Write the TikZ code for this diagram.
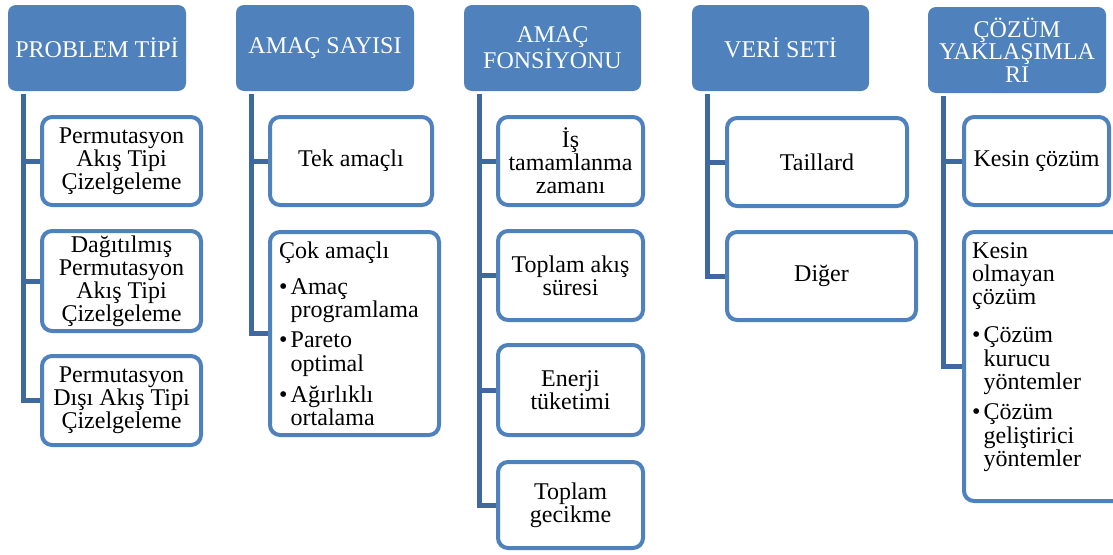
\documentclass[tikz,border=0pt]{standalone}
\usepackage{fontspec}
\setmainfont{Liberation Serif}
\usetikzlibrary{backgrounds}
\definecolor{hblue}{RGB}{79,129,189}
\definecolor{cblue}{RGB}{62,104,158}
\newcommand{\bul}{\makebox[11.5pt][l]{\textbullet}}
\newcommand{\ind}{\hspace*{11.5pt}}
\tikzset{
  hdr/.style={fill=hblue, rounded corners=8pt, text=white, align=center, inner sep=0pt,
    minimum height=86pt, font=\fontsize{24}{23.3}\selectfont},
  child/.style={draw=hblue, line width=4pt, fill=white, rounded corners=10pt, align=center,
    inner sep=0pt, font=\fontsize{24}{23}\selectfont},
  listtxt/.style={align=left, inner sep=0pt, font=\fontsize{24}{23.3}\selectfont},
  conn/.style={draw=cblue, line width=5pt}
}
\begin{document}
\begin{tikzpicture}[x=1pt,y=-1pt]
\useasboundingbox (0,0) rectangle (1113,554);
% headers
\node[hdr, minimum width=178pt] (h1) at (97,48) {PROBLEM TİPİ};
\node[hdr, minimum width=178pt] (h2) at (325,48) {AMAÇ SAYISI};
\node[hdr, minimum width=177pt] (h3) at (552.5,48) {AMAÇ\\FONSİYONU};
\node[hdr, minimum width=177pt] (h4) at (780.5,48) {VERİ SETİ};
\node[hdr, minimum width=178pt, font=\fontsize{24}{22.3}\selectfont] (h5) at (1017,50) {ÇÖZÜM\\YAKLAŞIMLA\\RI};
% connector tops
\coordinate (c1) at ([xshift=16pt,yshift=-3pt]h1.south west);
\coordinate (c2) at ([xshift=16pt,yshift=-3pt]h2.south west);
\coordinate (c3) at ([xshift=16pt,yshift=-3pt]h3.south west);
\coordinate (c4) at ([xshift=16pt,yshift=-3pt]h4.south west);
\coordinate (c5) at ([xshift=16pt,yshift=-3pt]h5.south west);
% column 1
\node[child, minimum width=159pt, minimum height=88pt] (b11) at (121.5,161) {Permutasyon\\Akış Tipi\\Çizelgeleme};
\node[child, minimum width=159pt, minimum height=100pt] (b12) at (121.5,281) {Dağıtılmış\\Permutasyon\\Akış Tipi\\Çizelgeleme};
\node[child, minimum width=159pt, minimum height=89pt] (b13) at (121.5,400.5) {Permutasyon\\Dışı Akış Tipi\\Çizelgeleme};
% column 2
\node[child, minimum width=162pt, minimum height=88pt] (b21) at (351,161) {Tek amaçlı};
\node[child, minimum width=169pt, minimum height=203pt] (b22) at (354.5,333.5) {};
\node[listtxt, anchor=north west] (t22) at (279,242) {Çok amaçlı\\[12pt]
\bul Amaç\\ \ind programlama\\[7pt]
\bul Pareto\\ \ind optimal\\[8pt]
\bul Ağırlıklı\\ \ind ortalama};
% column 3
\node[child, minimum width=145pt, minimum height=88pt] (b31) at (570.5,161) {İş\\tamamlanma\\zamanı};
\node[child, minimum width=145pt, minimum height=89pt] (b32) at (570.5,275.5) {Toplam akış\\süresi};
\node[child, minimum width=145pt, minimum height=90pt] (b33) at (570.5,390) {Enerji\\tüketimi};
\node[child, minimum width=145pt, minimum height=86pt] (b34) at (570.5,505) {Toplam\\gecikme};
% column 4
\node[child, minimum width=180pt, minimum height=88pt] (b41) at (817,162) {Taillard};
\node[child, minimum width=189pt, minimum height=88pt] (b42) at (821.5,276) {Diğer};
% column 5
\node[child, minimum width=145pt, minimum height=88pt] (b51) at (1036.5,161) {Kesin çözüm};
\node[child, minimum width=159pt, minimum height=269pt] (b52) at (1043.5,366.5) {};
\node[listtxt, anchor=north west] (t52) at (972,242) {Kesin\\ olmayan\\ çözüm\\[15pt]
\bul Çözüm\\ \ind kurucu\\ \ind yöntemler\\[7pt]
\bul Çözüm\\ \ind geliştirici\\ \ind yöntemler};
% connectors
\begin{scope}[on background layer]
\draw[conn] (c1) |- (b11.west);
\draw[conn] (c1) |- (b12.west);
\draw[conn] (c1) |- (b13.west);
\draw[conn] (c2) |- (b21.west);
\draw[conn] (c2) |- (b22.west);
\draw[conn] (c3) |- (b31.west);
\draw[conn] (c3) |- (b32.west);
\draw[conn] (c3) |- (b33.west);
\draw[conn] (c3) |- (b34.west);
\draw[conn] (c4) |- (b41.west);
\draw[conn] (c4) |- (b42.west);
\draw[conn] (c5) |- (b51.west);
\draw[conn] (c5) |- (b52.west);
\end{scope}
\end{tikzpicture}
\end{document}
